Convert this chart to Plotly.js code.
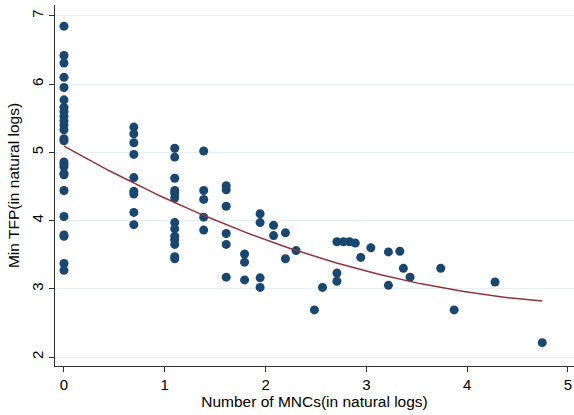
<!DOCTYPE html>
<html>
<head>
<meta charset="utf-8">
<script src="https://cdn.plot.ly/plotly-3.0.1.min.js"></script>
<style>html,body{margin:0;padding:0;background:#fff;}#chart{width:574px;height:415px;}</style>
</head>
<body>
<div id="chart"></div>
<script>
// Number of MNCs (natural logs) and Min TFP (natural logs)
const mncCounts = [
  1,1,1,1,1,1,1,1,1,1,1,1,1,1,1,1,1,1,1,1,1,1,1,1,1,
  2,2,2,2,2,2,2,2,2,
  3,3,3,3,3,3,3,3,3,3,3,3,3,
  4,4,4,4,4,
  5,5,5,5,5,5,
  6,6,6,
  7,7,7,7,
  8,8,
  9,9,
  10,
  12,
  13,
  15,15,15,
  16,17,18,19,21,
  25,25,28,29,31,42,48,72,115
];
const minTFP = [
  6.85,6.42,6.31,6.10,5.95,5.77,5.66,5.60,5.53,5.46,5.40,5.33,5.20,5.17,4.86,4.83,4.79,4.69,4.67,4.44,4.06,3.79,3.77,3.37,3.27,
  5.37,5.27,5.14,4.97,4.63,4.43,4.39,4.12,3.94,
  5.06,4.93,4.62,4.44,4.40,4.33,3.97,3.88,3.77,3.72,3.65,3.47,3.44,
  5.02,4.44,4.31,4.05,3.86,
  4.51,4.45,4.21,3.81,3.65,3.17,
  3.51,3.39,3.13,
  4.10,3.97,3.16,3.02,
  3.93,3.78,
  3.82,3.44,
  3.56,
  2.69,
  3.02,
  3.69,3.23,3.11,
  3.69,3.69,3.67,3.46,3.60,
  3.54,3.05,3.55,3.30,3.17,3.30,2.69,3.10,2.21
];
const xTitle = "Number of MNCs(in natural logs)";
const yTitle = "Min TFP(in natural logs)";
const xTicks = [0,1,2,3,4,5];
const yTicks = [2,3,4,5,6,7];

const lnMNC = mncCounts.map(v => Math.log(v));

// quadratic least-squares fit (like Stata qfit)
function qfit(x, y) {
  let S = [0,0,0,0,0], T = [0,0,0];
  for (let i = 0; i < x.length; i++) {
    let p = 1;
    for (let k = 0; k < 5; k++) { S[k] += p; if (k < 3) T[k] += p * y[i]; p *= x[i]; }
  }
  const A = [[S[0],S[1],S[2],T[0]],[S[1],S[2],S[3],T[1]],[S[2],S[3],S[4],T[2]]];
  for (let c = 0; c < 3; c++) {
    for (let r = c + 1; r < 3; r++) {
      const f = A[r][c] / A[c][c];
      for (let k = c; k < 4; k++) A[r][k] -= f * A[c][k];
    }
  }
  const b = [0,0,0];
  for (let r = 2; r >= 0; r--) {
    let s = A[r][3];
    for (let k = r + 1; k < 3; k++) s -= A[r][k] * b[k];
    b[r] = s / A[r][r];
  }
  return b;
}
const coef = qfit(lnMNC, minTFP);
const xmin = Math.min(...lnMNC), xmax = Math.max(...lnMNC);
const fx = [], fy = [];
for (let i = 0; i <= 100; i++) {
  const xv = xmin + (xmax - xmin) * i / 100;
  fx.push(xv);
  fy.push(coef[0] + coef[1] * xv + coef[2] * xv * xv);
}

const font = {family: "Liberation Sans, Arial, sans-serif", color: "#000"};
const data = [
  {x: lnMNC, y: minTFP, type: "scatter", mode: "markers",
   marker: {color: "#1a476f", size: 9}, hoverinfo: "x+y", showlegend: false},
  {x: fx, y: fy, type: "scatter", mode: "lines",
   line: {color: "#90353b", width: 1.5}, showlegend: false}
];
const layout = {
  width: 574, height: 415,
  margin: {l: 55, r: 0, t: 5, b: 49},
  paper_bgcolor: "#fff", plot_bgcolor: "#fff",
  font: Object.assign({size: 15}, font),
  xaxis: {
    range: [-0.089, 5.06], tickvals: xTicks, ticktext: xTicks.map(String),
    showgrid: false, zeroline: false, showline: true, linecolor: "#333", linewidth: 1,
    ticks: "outside", ticklen: 5, tickcolor: "#333", tickfont: {size: 15},
    title: {text: xTitle, font: {size: 15.5}, standoff: 3}
  },
  yaxis: {
    range: [1.868, 7.16], tickvals: yTicks, ticktext: yTicks.map(String),
    showgrid: true, gridcolor: "#e6eff4", gridwidth: 1,
    zeroline: false, showline: true, linecolor: "#333", linewidth: 1,
    ticks: "outside", ticklen: 5, tickcolor: "#333", tickangle: -90, tickfont: {size: 15},
    title: {text: yTitle, font: {size: 15.5}, standoff: 5}
  }
};
Plotly.newPlot("chart", data, layout, {displayModeBar: false, staticPlot: true});
</script>
</body>
</html>
